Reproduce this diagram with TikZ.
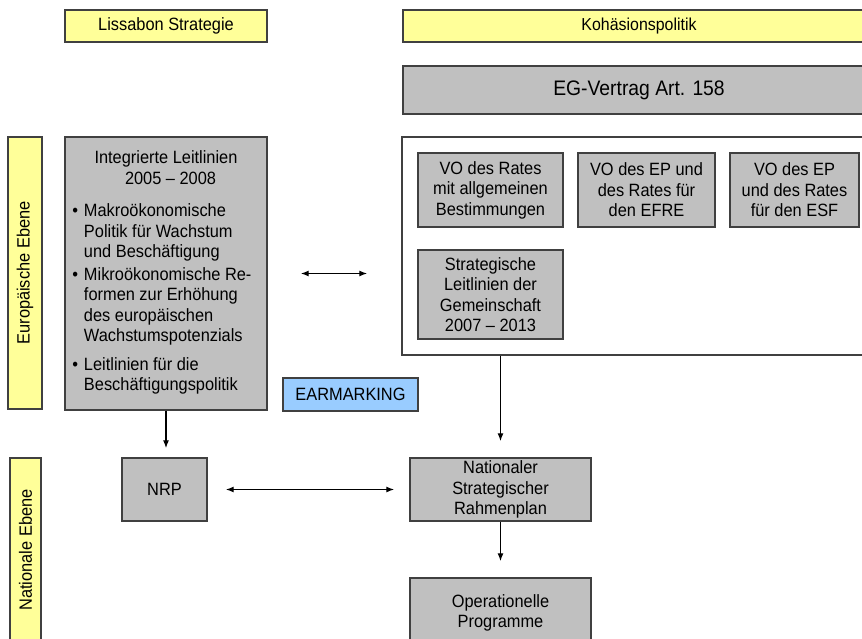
\documentclass[tikz,border=0pt]{standalone}
\usepackage{fontspec}
\setmainfont{Liberation Sans}[FakeStretch=0.92]
\usetikzlibrary{arrows.meta}

\definecolor{kopfgelb}{HTML}{FFFF99}
\definecolor{kastengrau}{HTML}{C0C0C0}
\definecolor{randgrau}{HTML}{404040}
\definecolor{hellblau}{HTML}{99CCFF}

\tikzset{
  kopf/.style={draw=randgrau, fill=kopfgelb, line width=1.4pt, inner sep=0pt, font=\fontsize{17.8}{20}\selectfont},
  ebene/.style={kopf, rotate=90},
  grau/.style={draw=randgrau, fill=kastengrau, line width=1.4pt, inner sep=0pt, align=center, font=\fontsize{17.8}{20.5}\selectfont},
  pfeil/.style={-{Latex[length=8pt,width=6pt]}, line width=1.3pt},
  doppelpfeil/.style={{Latex[length=8pt,width=6pt]}-{Latex[length=8pt,width=6pt]}, line width=1.3pt}
}

\begin{document}
\begin{tikzpicture}[x=1pt, y=-1pt]
  \clip (0,0) rectangle (862,639);
  \fill[white] (0,0) rectangle (862,639);

  \node[kopf, minimum width=202pt, minimum height=32pt] (lissabon) at (166,26) {Lissabon Strategie};
  \node[kopf, minimum width=472pt, minimum height=32pt, font=\fontsize{17.3}{20}\selectfont] (kohaesion) at (639,26) {Kohäsionspolitik};
  \node[grau, minimum width=472pt, minimum height=48pt, font=\fontsize{21}{24}\selectfont] (vertrag) at (639,90) {EG-Vertrag Art. 158};

  \node[ebene, minimum width=272pt, minimum height=34pt] (europa) at (25,273) {Europäische Ebene};
  \node[ebene, minimum width=184pt, minimum height=31pt] (national) at (25.5,550) {Nationale Ebene};

  \node[grau, minimum width=202pt, minimum height=273pt] (leitlinien) at (166,273.5) {\parbox[c][271pt][t]{200pt}{%
    \vspace*{13pt}\centering Integrierte Leitlinien\\\ \ 2005 – 2008\par
    \vspace{12pt}\raggedright\leftskip=18pt
    \leavevmode\llap{\textbullet\hspace{6pt}}Makroökonomische\\Politik für Wachstum\\und Beschäftigung\par
    \vspace{2pt}\leavevmode\llap{\textbullet\hspace{6pt}}Mikroökonomische Re-\\formen zur Erhöhung\\des europäischen\\Wachstumspotenzials\par
    \vspace{8pt}\leavevmode\llap{\textbullet\hspace{6pt}}Leitlinien für die\\Beschäftigungspolitik\par}};

  \node[draw=randgrau, fill=white, line width=1.4pt, minimum width=473pt, minimum height=218pt] (rahmen) at (638.5,246) {};
  \node[grau, minimum width=145pt, minimum height=74pt] (allgemein) at (490.5,190) {VO des Rates\\mit allgemeinen\\Bestimmungen};
  \node[grau, minimum width=137pt, minimum height=74pt] (efre) at (646.5,190) {VO des EP und\\des Rates für\\den EFRE};
  \node[grau, minimum width=129pt, minimum height=74pt] (esf) at (794.5,190) {VO des EP\\und des Rates\\für den ESF};
  \node[grau, minimum width=145pt, minimum height=89pt] (strategisch) at (490.5,294.5) {Strategische\\Leitlinien der\\Gemeinschaft\\2007 – 2013};

  \node[grau, fill=hellblau, minimum width=135pt, minimum height=33pt] (earmarking) at (350.5,394.5) {EARMARKING};

  \node[grau, minimum width=85pt, minimum height=63pt] (nrp) at (164.5,489.5) {NRP};
  \node[grau, minimum width=181pt, minimum height=63pt] (nsr) at (500.5,489.5) {Nationaler\\Strategischer\\Rahmenplan};
  \node[grau, minimum width=181pt, minimum height=70pt] (op) at (500.5,613) {Operationelle\\Programme};

  \draw[doppelpfeil, shorten <=33pt, shorten >=34pt] (leitlinien.east) -- (leitlinien.east -| rahmen.west);
  \draw[pfeil, shorten >=9pt] (leitlinien.south) -- (leitlinien.south |- nrp.north);
  \draw[pfeil, shorten >=16pt] (nsr.north |- rahmen.south) -- (nsr.north);
  \draw[doppelpfeil, shorten <=18pt, shorten >=15pt] (nrp) -- (nsr);
  \draw[pfeil, shorten >=16pt] (nsr) -- (op);
\end{tikzpicture}
\end{document}
